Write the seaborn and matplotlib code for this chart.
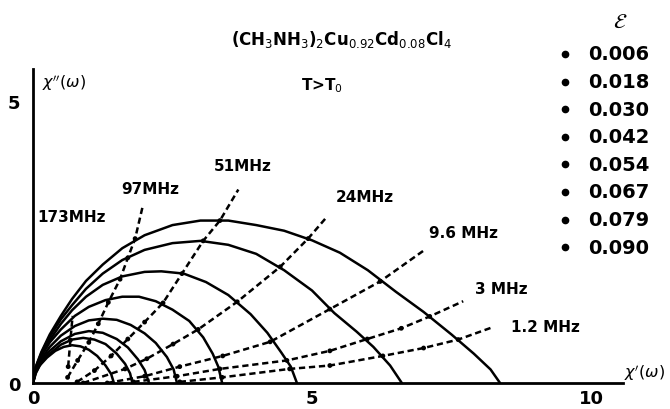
import numpy as np
import pandas as pd
import matplotlib
matplotlib.use("Agg")
import matplotlib.pyplot as plt
import seaborn as sns

sns.set_theme(style="white")
plt.rcParams['font.family'] = ['DejaVu Sans']
plt.rcParams['mathtext.fontset'] = 'dejavusans'
for k in ['text.color', 'axes.labelcolor', 'xtick.color', 'ytick.color', 'axes.edgecolor']:
    plt.rcParams[k] = 'black'

# ---- data: Cole-Cole arcs, chi'(w) vs chi''(w), one per epsilon ----
eps_labels = ["0.006", "0.018", "0.030", "0.042", "0.054", "0.067", "0.079", "0.090"]

arc1_x = [0, 0.05, 0.15, 0.3, 0.5, 0.7, 0.95, 1.25, 1.6, 2.0, 2.5, 3.0, 3.5, 4.0, 4.5, 5.0, 5.5, 6.0, 6.5, 7.0, 7.5, 7.9, 8.2, 8.37]
arc1_y = [0, 0.29, 0.55, 0.86, 1.19, 1.49, 1.81, 2.10, 2.39, 2.62, 2.80, 2.88, 2.88, 2.80, 2.70, 2.53, 2.31, 2.00, 1.62, 1.26, 0.86, 0.52, 0.24, 0]
arc2_x = [0, 0.05, 0.15, 0.3, 0.5, 0.7, 0.95, 1.25, 1.6, 2.0, 2.5, 3.0, 3.5, 4.0, 4.5, 5.0, 5.4, 5.8, 6.1, 6.4, 6.61]
arc2_y = [0, 0.28, 0.53, 0.82, 1.13, 1.38, 1.67, 1.94, 2.18, 2.36, 2.48, 2.52, 2.45, 2.29, 2.00, 1.64, 1.24, 0.91, 0.64, 0.31, 0]
arc3_x = [0, 0.05, 0.15, 0.3, 0.5, 0.7, 0.95, 1.25, 1.6, 2.0, 2.3, 2.7, 3.1, 3.5, 3.9, 4.2, 4.45, 4.62, 4.73]
arc3_y = [0, 0.27, 0.51, 0.76, 1.05, 1.29, 1.53, 1.74, 1.89, 1.97, 1.98, 1.94, 1.79, 1.56, 1.22, 0.89, 0.54, 0.29, 0]
arc4_x = [0, 0.05, 0.15, 0.3, 0.5, 0.75, 1.0, 1.3, 1.6, 1.9, 2.2, 2.5, 2.8, 3.05, 3.22, 3.32, 3.39]
arc4_y = [0, 0.25, 0.48, 0.72, 0.95, 1.19, 1.35, 1.47, 1.53, 1.53, 1.45, 1.30, 1.10, 0.81, 0.52, 0.29, 0]
arc5_x = [0, 0.05, 0.15, 0.3, 0.5, 0.75, 1.0, 1.25, 1.5, 1.75, 2.0, 2.2, 2.4, 2.52, 2.58]
arc5_y = [0, 0.23, 0.43, 0.64, 0.84, 1.01, 1.11, 1.14, 1.12, 1.03, 0.88, 0.71, 0.46, 0.24, 0]
arc6_x = [0, 0.05, 0.15, 0.3, 0.5, 0.75, 1.0, 1.25, 1.5, 1.7, 1.88, 2.0, 2.08]
arc6_y = [0, 0.21, 0.40, 0.57, 0.74, 0.87, 0.92, 0.89, 0.78, 0.63, 0.42, 0.23, 0]
arc7_x = [0, 0.05, 0.15, 0.3, 0.5, 0.7, 0.9, 1.1, 1.3, 1.5, 1.65, 1.74, 1.78]
arc7_y = [0, 0.19, 0.36, 0.52, 0.68, 0.77, 0.80, 0.77, 0.69, 0.52, 0.34, 0.17, 0]
arc8_x = [0, 0.05, 0.12, 0.25, 0.4, 0.55, 0.7, 0.85, 1.0, 1.15, 1.3, 1.4, 1.45]
arc8_y = [0, 0.17, 0.31, 0.45, 0.57, 0.64, 0.67, 0.65, 0.59, 0.48, 0.31, 0.16, 0]

# ---- data: constant-frequency (dashed) lines ----
freq_labels = ["173MHz", "97MHz", "51MHz", "24MHz", "9.6 MHz", "3 MHz", "1.2 MHz"]
f173_x = [0.63, 0.67, 0.71]
f173_y = [0.29, 0.76, 1.19]
f97_x = [0.62, 0.8, 1.0, 1.17, 1.35, 1.56, 1.7, 1.83, 1.97]
f97_y = [0.1, 0.4, 0.72, 1.05, 1.43, 1.84, 2.22, 2.56, 3.15]
f51_x = [0.79, 1.1, 1.4, 1.7, 2.0, 2.33, 2.67, 3.05, 3.35, 3.68]
f51_y = [0.02, 0.22, 0.48, 0.78, 1.08, 1.42, 1.94, 2.52, 2.88, 3.43]
f24_x = [0.9, 1.65, 2.04, 2.51, 2.96, 3.66, 4.43, 4.93, 5.27]
f24_y = [0.0, 0.25, 0.43, 0.69, 0.95, 1.44, 2.06, 2.56, 2.95]
f9_6_x = [1.33, 2.0, 2.63, 3.4, 4.25, 5.32, 6.22, 6.99]
f9_6_y = [0.0, 0.12, 0.29, 0.48, 0.73, 1.31, 1.80, 2.34]
f3_x = [1.8, 2.58, 3.35, 4.55, 5.32, 5.99, 6.6, 7.11, 7.71]
f3_y = [0.02, 0.12, 0.25, 0.40, 0.57, 0.78, 0.97, 1.18, 1.45]
f1_2_x = [2.63, 3.39, 4.6, 5.32, 6.27, 7.0, 7.62, 8.24]
f1_2_y = [0.02, 0.10, 0.25, 0.31, 0.48, 0.62, 0.77, 0.99]

# label anchor positions (data coords) for frequency labels
freq_lab_x = [0.07, 2.1, 3.76, 5.95, 7.71, 8.4, 9.18]
freq_lab_y = [2.95, 3.45, 3.86, 3.30, 2.66, 1.67, 1.01]

x_ticks = [0, 5, 10]
y_ticks = [0, 5]

arcs = [(arc1_x, arc1_y), (arc2_x, arc2_y), (arc3_x, arc3_y), (arc4_x, arc4_y),
        (arc5_x, arc5_y), (arc6_x, arc6_y), (arc7_x, arc7_y), (arc8_x, arc8_y)]
freqs = [(f173_x, f173_y), (f97_x, f97_y), (f51_x, f51_y), (f24_x, f24_y),
         (f9_6_x, f9_6_y), (f3_x, f3_y), (f1_2_x, f1_2_y)]

arc_df = pd.concat([pd.DataFrame({"x": ax_, "y": ay_, "eps": lab})
                    for (ax_, ay_), lab in zip(arcs, eps_labels)], ignore_index=True)
frq_df = pd.concat([pd.DataFrame({"x": fx, "y": fy, "f": lab})
                    for (fx, fy), lab in zip(freqs, freq_labels)], ignore_index=True)
dot_df = pd.concat([pd.DataFrame({"x": fx[:-1], "y": fy[:-1]}) for fx, fy in freqs],
                   ignore_index=True)

W, H = 670, 410
fig = plt.figure(figsize=(W / 100, H / 100), dpi=100)
x0_px, y0_px = 33, 384
sx, sy = 55.8, 56.4
ax = fig.add_axes([x0_px / W, (H - y0_px) / H, (W - x0_px) / W, y0_px / H])
ax.set_xlim(0, (W - x0_px) / sx)
ax.set_ylim(0, y0_px / sy)
ax.set_facecolor("white")

sns.lineplot(data=arc_df, x="x", y="y", units="eps", estimator=None, sort=False,
             color="black", linewidth=1.8, ax=ax, legend=False)
n_solid = len(ax.lines)
sns.lineplot(data=frq_df, x="x", y="y", units="f", estimator=None, sort=False,
             color="black", linewidth=1.8, ax=ax, legend=False)
for line in ax.lines[n_solid:]:
    line.set_linestyle((0, (2.5, 1.5)))
sns.scatterplot(data=dot_df, x="x", y="y", s=12, color="black", edgecolor="none",
                ax=ax, legend=False)

# spines / ticks
for s in ["top", "right"]:
    ax.spines[s].set_visible(False)
ax.spines["left"].set_bounds(0, 5.57)
ax.spines["bottom"].set_bounds(0, 10.57)
for s in ["left", "bottom"]:
    ax.spines[s].set_linewidth(2.0)
    ax.spines[s].set_color("black")
ax.set_xticks(x_ticks)
ax.set_yticks(y_ticks)
ax.set_xticklabels([str(t) for t in x_ticks], fontsize=13, fontweight="bold")
ax.set_yticklabels([str(t) for t in y_ticks], fontsize=13, fontweight="bold")
ax.tick_params(direction="in", length=5, width=1.5, pad=4, colors="black")
ax.tick_params(axis="y", pad=9)
ax.set_xlabel("")
ax.set_ylabel("")
ax.grid(False)

ax.text(0.16, 5.34, r"$\chi''(\omega)$", fontsize=11.5, ha="left", va="center")
ax.text(11.33, 0.2, r"$\chi'(\omega)$", fontsize=11.5, ha="right", va="center")

for lab, lx, ly in zip(freq_labels, freq_lab_x, freq_lab_y):
    ha = "left" if lab == "173MHz" else "center"
    ax.text(lx, ly, lab, fontsize=11, fontweight="bold", ha=ha, va="center")

fig.text(341 / W, 1 - 40 / H, r"(CH$_3$NH$_3$)$_2$Cu$_{0.92}$Cd$_{0.08}$Cl$_4$",
         fontsize=12, fontweight="bold", ha="center", va="center")
fig.text(322 / W, 1 - 86 / H, r"T>T$_0$", fontsize=11, fontweight="bold", ha="center", va="center")
fig.text(620 / W, 1 - 22 / H, r"$\mathcal{E}$", fontsize=15, ha="center", va="center")

row_y0, row_dy = 55, 27.6
for i, lab in enumerate(eps_labels):
    yy = 1 - (row_y0 + i * row_dy) / H
    fig.text(588 / W, yy, lab, fontsize=14, fontweight="bold", ha="left", va="center")
    fig.lines.append(plt.Line2D([565 / W], [yy], marker="o", markersize=4.5, color="black",
                                transform=fig.transFigure))

fig.savefig("out.png", dpi=100, facecolor="white")
